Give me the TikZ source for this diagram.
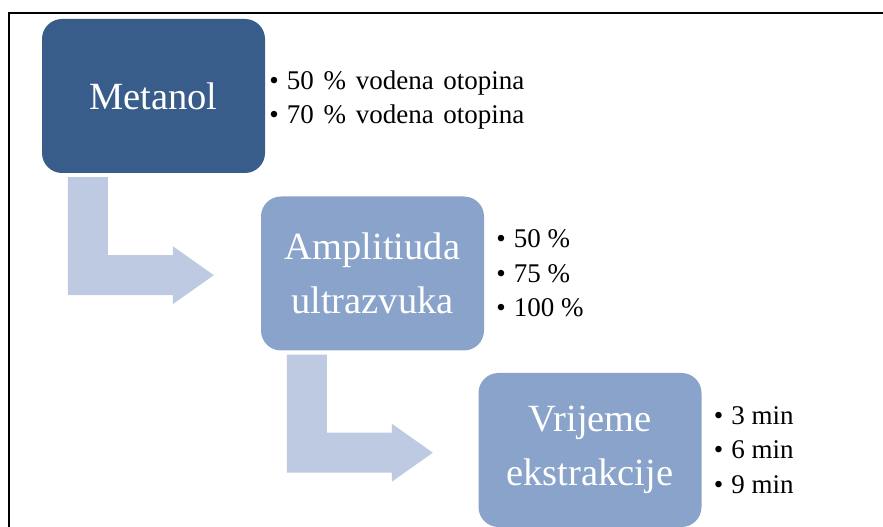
\documentclass[tikz,border=0pt]{standalone}
\usepackage{fontspec}
\setmainfont{Liberation Serif}
\usetikzlibrary{positioning}

\definecolor{tamnoplava}{HTML}{385D8A}
\definecolor{srednjeplava}{HTML}{89A3CA}
\definecolor{svijetloplava}{HTML}{BDCAE1}

\tikzset{
	korak/.style={rounded corners=20pt,minimum width=223pt,minimum height=154pt,
		inner sep=0pt,text=white,align=center,font=\fontsize{38.5}{54}\selectfont},
	popis/.style={inner sep=0pt,align=left,font=\fontsize{27}{34.5}\selectfont},
	strelica/.style={fill=svijetloplava,draw=none}
}
\newcommand{\stavka}[1]{\textbullet\hspace{8pt}#1}
\newcommand{\siroko}{\spaceskip=0.36em\relax}

\begin{document}
\begin{tikzpicture}[x=1pt,y=1pt]
	\useasboundingbox (0,0) rectangle (883,527);
	
	%frame
	\draw[line width=1.5pt] (9,0) |- (883,514);
	
	%boxes
	\node[korak,fill=tamnoplava]   (metanol)   at (153.5,431)  {Metanol};
	\node[korak,fill=srednjeplava] (amplituda) at (372.5,253.5) {Amplitiuda\\ultrazvuka};
	\node[korak,fill=srednjeplava] (vrijeme)   at (590,77)     {Vrijeme\\ekstrakcije};
	
	%outer labels
	\node[popis,right=4pt of metanol,yshift=-4pt] (popis1)
		{\siroko\stavka{50 \% vodena otopina}\\\siroko\stavka{70 \% vodena otopina}};
	\node[popis,right=12pt of amplituda] (popis2) {\stavka{50 \%}\\\stavka{75 \%}\\\stavka{100 \%}};
	\node[popis,right=12pt of vrijeme]  (popis3) {\stavka{3 min}\\\stavka{6 min}\\\stavka{9 min}};
	
	%arrows
	\foreach \izvor in {metanol,amplituda}
		\fill[strelica,shift={(\izvor.south west)}] (26,-4)--(66,-4)--(66,-82)--(131,-82)--(131,-73)
			--(172,-102)--(131,-131)--(131,-122)--(26,-122)--cycle;
	
	%\draw[help lines] (0,0) grid[step=50] (883,527);
\end{tikzpicture}
\end{document}
